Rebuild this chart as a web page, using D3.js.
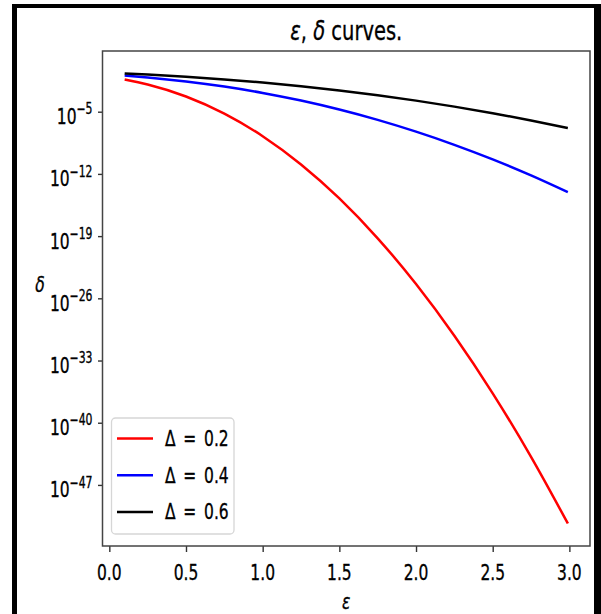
<!DOCTYPE html>
<html>
<head>
<meta charset="utf-8">
<script src="https://cdn.jsdelivr.net/npm/d3@7/dist/d3.min.js"></script>
<style>
  body { margin: 0; background: #fff; }
  text { font-family: "DejaVu Sans", sans-serif; fill: #000; stroke: #000; stroke-width: 0.25px; }
</style>
</head>
<body>
<div id="chart"></div>
<script>
/* epsilon values (x) */
var eps = [0.1, 0.25, 0.5, 0.75, 1.0, 1.25, 1.5, 1.75, 2.0, 2.25, 2.5, 2.75, 2.99];

/* delta values (y), one list per sensitivity */
var delta02 = [4.15e-2, 1.14e-2, 5.13e-4, 6.08e-6, 1.75e-8, 1.16e-11, 1.73e-15, 5.68e-20,
               4.05e-25, 6.21e-31, 2.05e-37, 1.44e-44, 4.57e-52];
var delta04 = [0.119, 7.26e-2, 2.56e-2, 6.76e-3, 1.30e-3, 1.79e-4, 1.75e-5, 1.20e-6,
               5.70e-8, 1.88e-9, 4.29e-11, 6.71e-13, 8.71e-15];
var delta06 = [0.199, 0.150, 8.50e-2, 4.28e-2, 1.90e-2, 7.33e-3, 2.45e-3, 7.08e-4,
               1.76e-4, 3.73e-5, 6.78e-6, 1.05e-6, 1.48e-7];

var seriesNames = ["Δ\u2002=\u20020.2", "Δ\u2002=\u20020.4", "Δ\u2002=\u20020.6"];
var seriesColors = ["#ff0000", "#0000ff", "#000000"];

/* tick labels */
var xTicks = [0.0, 0.5, 1.0, 1.5, 2.0, 2.5, 3.0];
var yTickExps = [-5, -12, -19, -26, -33, -40, -47];

/* page size and plot box */
var width = 601,
    height = 614;
var margin = { top: 51, right: 11, bottom: 68, left: 102.5 };
var plotW = width - margin.left - margin.right,
    plotH = height - margin.top - margin.bottom;

/* the picture is stretched vertically, so text gets stretched too */
var SY = 1.38;
var FS = 15.5;

var svg = d3.select("#chart")
    .append("svg")
    .attr("width", width)
    .attr("height", height);

svg.append("rect").attr("width", width).attr("height", height).attr("fill", "#fff");

var series = [delta02, delta04, delta06].map(function (vals, i) {
    return {
        name: seriesNames[i],
        color: seriesColors[i],
        points: eps.map(function (e, j) { return { x: e, y: vals[j] }; })
    };
});

/* scales with matplotlib-like 5% margins (log space for y) */
var xExt = d3.extent(eps);
var xPad = (xExt[1] - xExt[0]) * 0.05;
var x = d3.scaleLinear()
    .domain([xExt[0] - xPad, xExt[1] + xPad])
    .range([margin.left, margin.left + plotW]);

var allY = [].concat(delta02, delta04, delta06).map(function (v) { return Math.log10(v); });
var yExt = d3.extent(allY);
var yPad = (yExt[1] - yExt[0]) * 0.05;
var y = d3.scaleLog()
    .domain([Math.pow(10, yExt[0] - yPad), Math.pow(10, yExt[1] + yPad)])
    .range([margin.top + plotH, margin.top]);

/* helper: stretched text */
function stretchedText(parent, px, py, anchor, size) {
    return parent.append("text")
        .attr("transform", "translate(" + px + "," + py + ") scale(1," + SY + ")")
        .attr("text-anchor", anchor)
        .style("font-size", size + "px");
}

/* lines */
var line = d3.line()
    .x(function (d) { return x(d.x); })
    .y(function (d) { return y(d.y); })
    .curve(d3.curveMonotoneX);

var plot = svg.append("g");
plot.selectAll(".series")
    .data(series)
    .enter().append("path")
    .attr("class", "series")
    .attr("fill", "none")
    .attr("stroke", function (d) { return d.color; })
    .attr("stroke-width", 2.5)
    .attr("stroke-linecap", "butt")
    .attr("d", function (d) { return line(d.points); });

/* x axis */
var xAxis = d3.axisBottom(x)
    .tickValues(xTicks)
    .tickSize(6)
    .tickFormat("");
var gx = svg.append("g")
    .attr("transform", "translate(0," + (margin.top + plotH) + ")")
    .call(xAxis);
gx.select(".domain").remove();
gx.selectAll(".tick line").attr("stroke", "#333").attr("stroke-width", 1.4);
xTicks.forEach(function (t) {
    stretchedText(svg, x(t), margin.top + plotH + 34, "middle", FS).text(d3.format(".1f")(t));
});

/* y axis */
var yAxis = d3.axisLeft(y)
    .tickValues(yTickExps.map(function (p) { return Math.pow(10, p); }))
    .tickSize(4.5)
    .tickFormat("");
var gy = svg.append("g")
    .attr("transform", "translate(" + margin.left + ",0)")
    .call(yAxis);
gy.select(".domain").remove();
gy.selectAll(".tick line").attr("stroke", "#333").attr("stroke-width", 1.4);
yTickExps.forEach(function (p) {
    var t = stretchedText(svg, margin.left - 10, y(Math.pow(10, p)) + 12.5, "end", FS);
    t.append("tspan").text("10");
    t.append("tspan")
        .attr("dy", "-0.66em")
        .style("font-size", (FS * 0.7) + "px")
        .text("\u2212" + Math.abs(p));
});

/* frame of the axes */
svg.append("rect")
    .attr("x", margin.left)
    .attr("y", margin.top)
    .attr("width", plotW)
    .attr("height", plotH)
    .attr("fill", "none")
    .attr("stroke", "#444")
    .attr("stroke-width", 1.5);

/* legend */
var legend = svg.append("g");
legend.append("rect")
    .attr("x", 111.5).attr("y", 418)
    .attr("width", 122.5).attr("height", 116)
    .attr("rx", 4)
    .attr("fill", "#fff").attr("fill-opacity", 0.8)
    .attr("stroke", "#d6d6d6").attr("stroke-width", 1.3);
series.forEach(function (s, i) {
    var cy = 438.5 + i * 36.7;
    legend.append("line")
        .attr("x1", 117).attr("x2", 153)
        .attr("y1", cy).attr("y2", cy)
        .attr("stroke", s.color).attr("stroke-width", 2.5);
    stretchedText(legend, 165, cy + 7.5, "start", FS).text(s.name);
});

/* title */
var title = stretchedText(svg, margin.left + plotW / 2, 40, "middle", 19.5);
title.append("tspan").style("font-style", "italic").text("ε");
title.append("tspan").text(", ");
title.append("tspan").style("font-style", "italic").text("δ");
title.append("tspan").text(" curves.");

/* axis labels */
stretchedText(svg, margin.left + plotW / 2, 609, "middle", FS).style("font-style", "italic").text("ε");
stretchedText(svg, 40, 292, "middle", FS).style("font-style", "italic").text("δ");

/* black outer border */
svg.append("rect").attr("x", 12).attr("y", 0).attr("width", 5).attr("height", height).attr("fill", "#000");
svg.append("rect").attr("x", 12).attr("y", 4).attr("width", 589).attr("height", 4).attr("fill", "#000");
svg.append("rect").attr("x", 594).attr("y", 4).attr("width", 7).attr("height", height).attr("fill", "#000");
svg.append("rect").attr("x", 0).attr("y", 0).attr("width", width).attr("height", 4).attr("fill", "#fff");
</script>
</body>
</html>
